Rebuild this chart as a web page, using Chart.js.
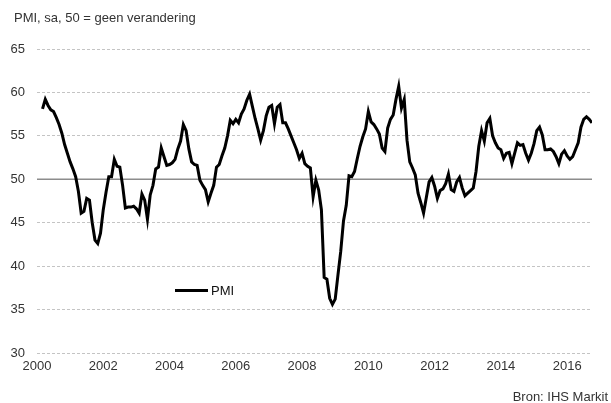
<!DOCTYPE html>
<html>
<head>
<meta charset="utf-8">
<script src="https://cdn.jsdelivr.net/npm/chart.js@4/dist/chart.umd.min.js"></script>
<style>
  html, body { margin: 0; padding: 0; background: #ffffff; }
  #wrap { width: 611px; height: 403px; position: relative; }
</style>
</head>
<body>
<div id="wrap"><canvas id="c" width="611" height="403"></canvas></div>
<script>
// ---- Data ----
const titleText = "PMI, sa, 50 = geen verandering";
const sourceText = "Bron: IHS Markit";
const seriesName = "PMI";
const startYear = 2000;
const startMonth = 3; // first observation: March 2000
const tickYears = [2000, 2002, 2004, 2006, 2008, 2010, 2012, 2014, 2016];
const yTicks = [30, 35, 40, 45, 50, 55, 60, 65];
const pmiValues = [
  58.1, 59.2, 58.5, 58.0, 57.8, 57.1, 56.3, 55.3, 54.0, 53.0,
  52.0, 51.2, 50.3, 48.6, 46.1, 46.3, 47.8, 47.6, 45.0, 43.0,
  42.6, 43.8, 46.5, 48.5, 50.3, 50.3, 52.3, 51.5, 51.4, 49.3,
  46.7, 46.8, 46.8, 46.9, 46.6, 46.1, 48.3, 47.6, 45.4, 48.2,
  49.3, 51.2, 51.4, 53.6, 52.6, 51.6, 51.7, 51.9, 52.3, 53.5,
  54.4, 56.3, 55.6, 53.5, 52.0, 51.7, 51.6, 49.9, 49.3, 48.8,
  47.4, 48.4, 49.3, 51.4, 51.7, 52.7, 53.6, 55.0, 56.8, 56.4,
  56.9, 56.5, 57.5, 58.1, 59.1, 59.8, 58.4, 57.0, 55.8, 54.5,
  55.6, 57.3, 58.3, 58.5, 56.4, 58.3, 58.6, 56.5, 56.5, 55.8,
  55.0, 54.2, 53.4, 52.4, 53.0, 51.8, 51.5, 51.3, 48.0, 49.9,
  48.8, 46.5, 38.7, 38.5, 36.3, 35.6, 36.2, 39.0, 41.7, 45.2,
  47.0, 50.4, 50.3, 50.9, 52.4, 53.8, 54.9, 55.8, 57.8, 56.6,
  56.3, 55.8, 55.2, 53.6, 53.2, 55.9, 56.9, 57.4, 59.2, 60.7,
  58.2, 59.2, 54.5, 52.0, 51.3, 50.5, 48.4, 47.3, 46.1, 47.9,
  49.7, 50.2, 49.2, 47.8, 48.7, 48.9, 49.5, 50.6, 48.8, 48.6,
  49.7, 50.2, 49.0, 48.1, 48.4, 48.7, 49.0, 50.9, 53.8, 55.6,
  54.4, 56.5, 57.0, 55.0, 54.2, 53.6, 53.4, 52.4, 53.0, 53.1,
  51.8, 53.0, 54.2, 53.9, 54.0, 53.0, 52.2, 53.0, 54.1, 55.6,
  56.0, 55.1, 53.4, 53.4, 53.5, 53.2, 52.6, 51.8, 52.9, 53.3,
  52.7, 52.3, 52.6, 53.4, 54.2, 56.0, 56.9, 57.2, 56.9, 56.5
];

// month positions (decimal years) for each observation
const monthPos = pmiValues.map((_, i) => startYear + (startMonth - 1 + i) / 12);
const points = pmiValues.map((v, i) => ({ x: monthPos[i], y: v }));

const FONT = "'Liberation Sans', Arial, sans-serif";
const TEXT = '#333333';

const extras = {
  id: 'extras',
  beforeDatasetsDraw(chart) {
    const { ctx, chartArea, scales } = chart;
    const y50 = scales.y.getPixelForValue(50);
    ctx.save();
    ctx.strokeStyle = '#8c8c8c';
    ctx.lineWidth = 1.5;
    ctx.beginPath();
    ctx.moveTo(chartArea.left, y50);
    ctx.lineTo(chartArea.right, y50);
    ctx.stroke();
    ctx.restore();
  },
  afterDraw(chart) {
    const { ctx } = chart;
    ctx.save();
    ctx.font = '13px ' + FONT;
    ctx.fillStyle = TEXT;
    ctx.textBaseline = 'middle';
    ctx.textAlign = 'left';
    ctx.fillText(titleText, 14, 18);
    ctx.textAlign = 'right';
    ctx.fillText(sourceText, 608, 397);
    // legend
    const ds = chart.data.datasets[0];
    ctx.strokeStyle = ds.borderColor;
    ctx.lineWidth = 3;
    ctx.beginPath();
    ctx.moveTo(175, 290.5);
    ctx.lineTo(208, 290.5);
    ctx.stroke();
    ctx.textAlign = 'left';
    ctx.fillStyle = '#111111';
    ctx.fillText(ds.label, 211, 291);
    ctx.restore();
  }
};

new Chart(document.getElementById('c'), {
  type: 'line',
  data: {
    datasets: [{
      label: seriesName,
      data: points,
      borderColor: '#000000',
      borderWidth: 3,
      pointRadius: 0,
      tension: 0,
      fill: false
    }]
  },
  options: {
    responsive: false,
    animation: false,
    layout: { padding: { left: 0, right: 19, top: 49, bottom: 0 } },
    plugins: { legend: { display: false }, tooltip: { enabled: false } },
    scales: {
      x: {
        type: 'linear',
        min: startYear,
        max: monthPos[monthPos.length - 1],
        afterBuildTicks(scale) { scale.ticks = tickYears.map(v => ({ value: v })); },
        afterFit(scale) { scale.height = 50; },
        grid: { display: false, drawTicks: false },
        border: { display: false },
        ticks: {
          padding: 6,
          maxRotation: 0,
          color: TEXT,
          font: { family: FONT, size: 13 },
          callback: v => String(v)
        }
      },
      y: {
        min: 30,
        max: 65,
        afterBuildTicks(scale) { scale.ticks = yTicks.map(v => ({ value: v })); },
        afterFit(scale) { scale.width = 37; },
        grid: {
          drawTicks: false,
          lineWidth: 1,
          color: ctx => (ctx.tick && ctx.tick.value === 50) ? 'rgba(0,0,0,0)' : '#c4c4c4'
        },
        border: { display: false, dash: [3, 2] },
        ticks: {
          padding: 12,
          color: TEXT,
          font: { family: FONT, size: 13 }
        }
      }
    }
  },
  plugins: [extras]
});
</script>
</body>
</html>
